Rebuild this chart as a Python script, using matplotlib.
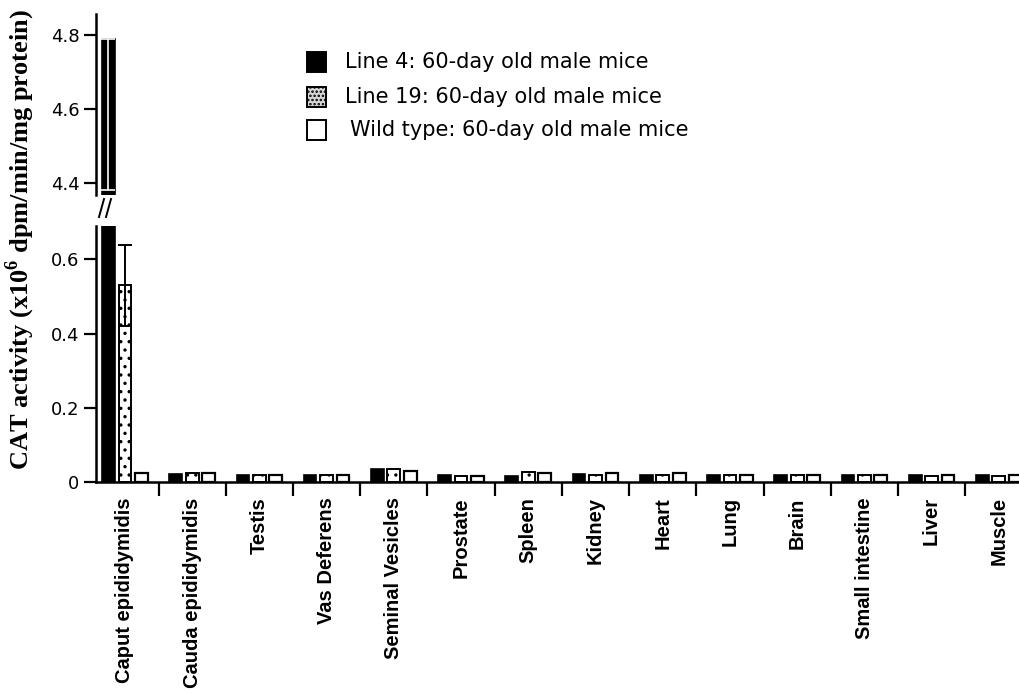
import matplotlib
matplotlib.use("Agg")
import matplotlib.pyplot as plt
import numpy as np
from matplotlib.patches import Rectangle
from matplotlib.lines import Line2D

plt.rcParams["mathtext.fontset"] = "custom"
plt.rcParams["mathtext.rm"] = "Liberation Serif"
plt.rcParams["mathtext.bf"] = "Liberation Serif:bold"
plt.rcParams["hatch.linewidth"] = 1.2

tissues = ["Caput epididymidis", "Cauda epididymidis", "Testis", "Vas Deferens",
           "Seminal Vesicles", "Prostate", "Spleen", "Kidney", "Heart", "Lung",
           "Brain", "Small intestine", "Liver", "Muscle"]

line4 = [4.79, 0.022, 0.020, 0.018, 0.035, 0.020, 0.017, 0.022, 0.020, 0.018,
         0.018, 0.018, 0.018, 0.018]
line19 = [0.53, 0.025, 0.020, 0.020, 0.035, 0.017, 0.028, 0.020, 0.020, 0.020,
          0.020, 0.018, 0.017, 0.017]
wild = [0.025, 0.025, 0.020, 0.018, 0.030, 0.017, 0.025, 0.023, 0.023, 0.020,
        0.020, 0.018, 0.018, 0.018]

line4_err_low = 0.41
line19_err = 0.11

labels = ["Line 4: 60-day old male mice",
          "Line 19: 60-day old male mice",
          "Wild type: 60-day old male mice"]

fig = plt.figure(figsize=(10.19, 6.96), dpi=100)
W, H = 1019, 696


def fx(px):
    return px / W


def fy(py):
    return 1 - py / H


ax_lo = fig.add_axes([fx(96), fy(482), 1 - fx(96), fy(226) - fy(482)])
ax_hi = fig.add_axes([fx(96), fy(195), 1 - fx(96), fy(14) - fy(195)])

x = np.arange(len(tissues))
step, bw = 0.245, 0.19
tick_font = dict(family="DejaVu Sans", size=13)

for ax in (ax_lo, ax_hi):
    ax.bar(x - step, line4, bw, color="black", edgecolor="black", lw=1.2, zorder=2)
    ax.bar(x, line19, bw, color="white", edgecolor="black", hatch="..", lw=1.4, zorder=2)
    ax.bar(x + step, wild, bw, color="white", edgecolor="black", lw=1.6, zorder=2)
    ax.set_xlim(-0.43, 13.3)
    for s in ("top", "right"):
        ax.spines[s].set_visible(False)
    ax.spines["left"].set_linewidth(1.8)
    ax.tick_params(axis="y", length=9, width=1.6, direction="out", pad=3)
    for t in ax.get_yticklabels():
        t.set_fontfamily("DejaVu Sans")

# error bars on the caput epididymidis bars
ax_hi.errorbar([x[0] - step], [line4[0]], yerr=[[line4_err_low], [0]], fmt="none",
               ecolor="white", elinewidth=1.2, capsize=5, capthick=1.2, zorder=3)
ax_lo.errorbar([x[0]], [line19[0]], yerr=[[line19_err], [line19_err]], fmt="none",
               ecolor="black", elinewidth=1.4, capsize=5, capthick=1.4, zorder=3)

ax_lo.set_ylim(0, 0.69)
ax_lo.set_yticks([0, 0.2, 0.4, 0.6])
ax_lo.set_yticklabels(["0", "0.2", "0.4", "0.6"], **tick_font)
ax_lo.spines["bottom"].set_linewidth(1.8)
ax_lo.set_xticks(x)
ax_lo.set_xticklabels(tissues, rotation=90, family="Liberation Sans",
                      fontweight="bold", fontsize=14.5)
ax_lo.set_xticks(x[:-1] + 0.5, minor=True)
ax_lo.tick_params(axis="x", which="major", length=0, pad=11)
ax_lo.tick_params(axis="x", which="minor", length=10, width=1.6)

ax_hi.set_ylim(4.367, 4.857)
ax_hi.set_yticks([4.4, 4.6, 4.8])
ax_hi.set_yticklabels(["4.4", "4.6", "4.8"], **tick_font)
ax_hi.spines["bottom"].set_visible(False)
ax_hi.set_xticks([])

# break marks between the two panels
for x0 in (99, 106):
    fig.add_artist(Line2D([fx(x0), fx(x0 + 5)], [fy(217), fy(199)],
                          color="black", lw=1.4))

fig.text(fx(20), fy(240),
         r"CAT activity (x10$^{\mathbf{6}}$ dpm/min/mg protein)",
         rotation=90, ha="center", va="center", family="Liberation Serif",
         fontweight="bold", fontsize=19)

# legend
styles = [dict(facecolor="black", edgecolor="black"),
          dict(facecolor="#d8d8d8", edgecolor="black", hatch="...."),
          dict(facecolor="white", edgecolor="black")]
rows = [62, 97, 130]
text_x = [345, 345, 350]
for st, lab, cy, tx in zip(styles, labels, rows, text_x):
    fig.add_artist(Rectangle((fx(307), fy(cy + 10)), fx(326) - fx(307), fy(cy - 10) - fy(cy + 10),
                             lw=1.4, transform=fig.transFigure, **st))
    fig.text(fx(tx), fy(cy), lab, ha="left", va="center", family="DejaVu Sans",
             fontsize=15)

fig.savefig("out.png", dpi=100)
